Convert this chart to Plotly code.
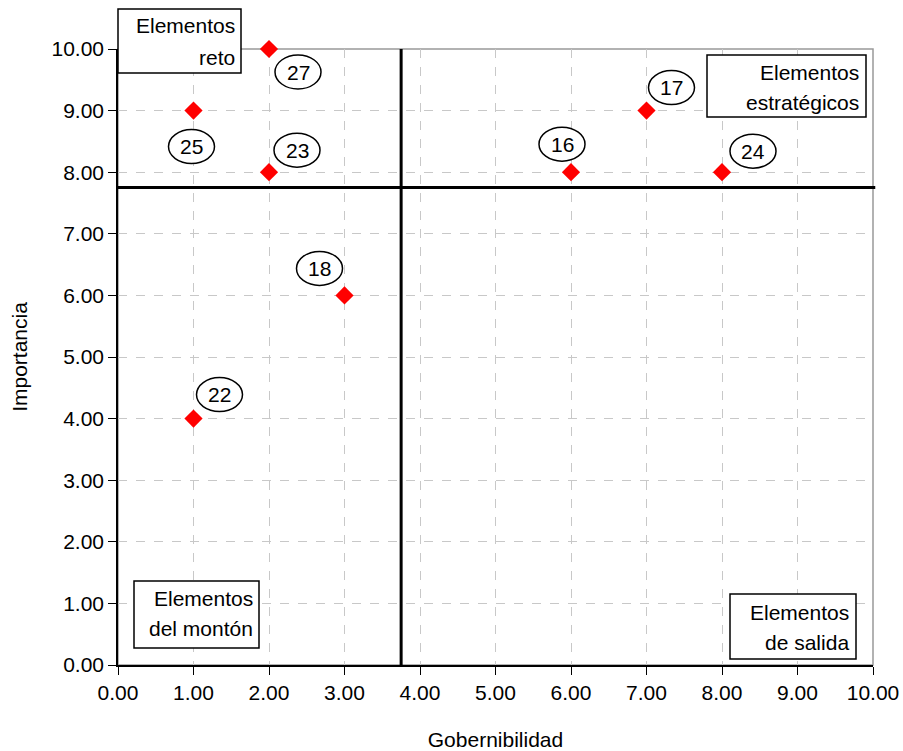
import plotly.graph_objects as go

# data
gobernabilidad = [2, 1, 2, 3, 1, 6, 7, 8]
importancia = [10, 9, 8, 6, 4, 8, 9, 8]
ids = ["27", "25", "23", "18", "22", "16", "17", "24"]
tick_vals = [0, 1, 2, 3, 4, 5, 6, 7, 8, 9, 10]
corte_x = 3.75
corte_y = 7.75

# label ellipse offsets from each point, in pixels (dx right, dy up)
label_offsets = [(29, -23), (-2, -36), (28, 22), (-25, 27), (26, 24), (-9, 28), (25, 23), (31, 21)]

FONT = "Liberation Sans, Arial, sans-serif"
FS = 21

fig = go.Figure()

fig.add_trace(go.Scatter(
    x=gobernabilidad, y=importancia, mode="markers",
    marker=dict(symbol="diamond", size=14, color="#ff0000", line=dict(width=0)),
    cliponaxis=False, showlegend=False, hoverinfo="skip",
))

shapes = []
annotations = []

# plot border (gray top/right)
shapes.append(dict(type="rect", xref="paper", yref="paper", x0=0, x1=1, y0=0, y1=1,
                   line=dict(color="#999999", width=1.5), layer="below"))

# quadrant lines
shapes.append(dict(type="line", xref="x", yref="paper", x0=corte_x, x1=corte_x, y0=0, y1=1,
                   line=dict(color="black", width=3)))
shapes.append(dict(type="line", xref="paper", yref="y", x0=0, x1=1.003, y0=corte_y, y1=corte_y,
                   line=dict(color="black", width=3)))

# ellipse labels
rx, ry = 23, 17
for gx, iy, lab, (dx, dy) in zip(gobernabilidad, importancia, ids, label_offsets):
    shapes.append(dict(type="circle", xref="x", yref="y", xsizemode="pixel", ysizemode="pixel",
                       xanchor=gx, yanchor=iy, x0=dx - rx, x1=dx + rx, y0=dy - ry, y1=dy + ry,
                       line=dict(color="black", width=1.5), fillcolor="white"))
    annotations.append(dict(x=gx, y=iy, xref="x", yref="y", text=lab, showarrow=False,
                            xshift=dx, yshift=dy, font=dict(family=FONT, size=FS, color="black")))

# quadrant text boxes: (x0_px, y0_px, x1_px, y1_px, text lines, right edge px, line centers px)
W, H = 903, 751
L, R, T, B = 118, 873, 49, 665
boxes = [
    (118, 9, 241, 73, ["Elementos", "reto"], 237, [26, 57]),
    (707, 55, 866, 117, ["Elementos", "estratégicos"], 861, [72, 102]),
    (134, 581, 259, 648, ["Elementos", "del montón"], 255, [598, 628]),
    (730, 594, 856, 659, ["Elementos", "de salida"], 851, [612, 642]),
]


def px_x(p):
    return (p - L) / (R - L)


def px_y(p):
    return (B - p) / (B - T)


for x0, y0, x1, y1, lines, right, centers in boxes:
    shapes.append(dict(type="rect", xref="paper", yref="paper",
                       x0=px_x(x0), x1=px_x(x1), y0=px_y(y1), y1=px_y(y0),
                       line=dict(color="black", width=1.5), fillcolor="white"))
    for txt, cy in zip(lines, centers):
        annotations.append(dict(x=px_x(right), y=px_y(cy), xref="paper", yref="paper",
                                xanchor="right", yanchor="middle", text=txt, showarrow=False,
                                font=dict(family=FONT, size=FS, color="black")))

axis_common = dict(
    range=[0, 10], tickvals=tick_vals, tickformat=".2f", automargin=False,
    showgrid=True, gridcolor="#c8c8c8", griddash="dash", gridwidth=1,
    showline=True, linecolor="black", linewidth=1.5,
    ticks="outside", ticklen=8, tickcolor="black", tickwidth=1,
    zeroline=False, tickfont=dict(family=FONT, size=FS, color="black"),
)

fig.update_layout(
    width=W, height=H,
    margin=dict(l=L, r=W - R, t=T, b=H - B),
    plot_bgcolor="white", paper_bgcolor="white",
    font=dict(family=FONT, size=FS, color="black"),
    xaxis=dict(**axis_common, title=dict(text="Gobernibilidad", standoff=34,
                                         font=dict(family=FONT, size=FS))),
    yaxis=dict(**axis_common, title=dict(text="Importancia", standoff=18,
                                         font=dict(family=FONT, size=FS))),
    shapes=shapes,
    annotations=annotations,
)

fig.write_html("out.html", config={"displayModeBar": False},
               post_script="document.body.style.margin='0';")
